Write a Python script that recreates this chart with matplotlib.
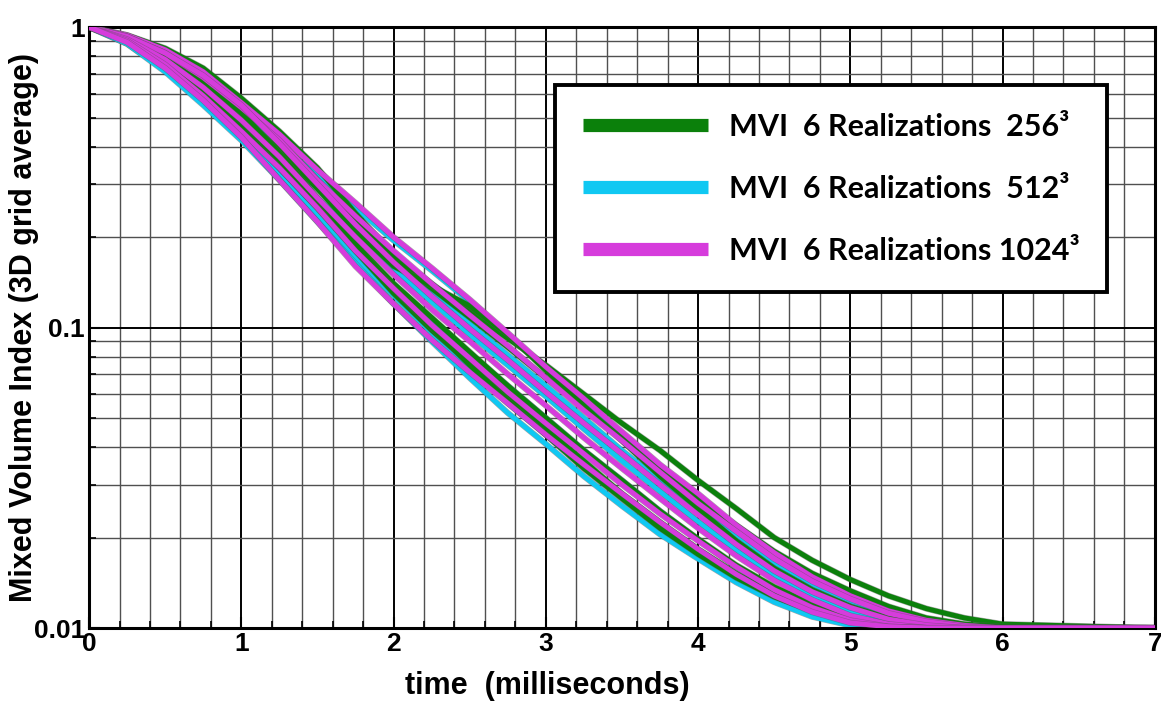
import numpy as np
import matplotlib
matplotlib.use('Agg')
import matplotlib.pyplot as plt
import matplotlib.patheffects as pe
from matplotlib.ticker import MultipleLocator, LogLocator, FixedLocator, NullFormatter

# time samples (ms)
t = [0, 0.25, 0.5, 0.75, 1, 1.25, 1.5, 1.75, 2, 2.25, 2.5, 2.75, 3,
     3.25, 3.5, 3.75, 4, 4.25, 4.5, 4.75, 5, 5.25, 5.5, 5.75, 6, 7]

# MVI, 6 realizations at 256^3
g1 = [1, 0.94, 0.85, 0.73, 0.58, 0.45, 0.34, 0.24, 0.175, 0.14, 0.113, 0.092, 0.075, 0.060, 0.048, 0.039, 0.031, 0.025, 0.020, 0.0168, 0.0145, 0.0128, 0.0116, 0.0108, 0.0103, 0.01]
g2 = [1, 0.93, 0.83, 0.70, 0.55, 0.42, 0.31, 0.23, 0.17, 0.135, 0.108, 0.086, 0.068, 0.054, 0.043, 0.034, 0.027, 0.022, 0.018, 0.0152, 0.0133, 0.0118, 0.0108, 0.0103, 0.0101, 0.01]
g3 = [1, 0.92, 0.80, 0.66, 0.51, 0.39, 0.29, 0.21, 0.16, 0.138, 0.118, 0.095, 0.072, 0.055, 0.042, 0.032, 0.025, 0.0195, 0.0158, 0.0134, 0.0118, 0.0108, 0.0103, 0.0101, 0.01, 0.01]
g4 = [1, 0.91, 0.78, 0.63, 0.48, 0.36, 0.26, 0.19, 0.14, 0.108, 0.083, 0.064, 0.050, 0.039, 0.031, 0.0245, 0.0198, 0.0162, 0.0137, 0.012, 0.0109, 0.0103, 0.0101, 0.01, 0.01, 0.01]
g5 = [1, 0.90, 0.76, 0.61, 0.46, 0.34, 0.25, 0.18, 0.13, 0.098, 0.076, 0.059, 0.046, 0.036, 0.028, 0.0225, 0.0183, 0.0152, 0.013, 0.0116, 0.0107, 0.0102, 0.01, 0.01, 0.01, 0.01]
g6 = [1, 0.92, 0.80, 0.66, 0.52, 0.38, 0.27, 0.19, 0.135, 0.10, 0.075, 0.057, 0.044, 0.034, 0.027, 0.0215, 0.0176, 0.0147, 0.0127, 0.0114, 0.0106, 0.0102, 0.01, 0.01, 0.01, 0.01]

# MVI, 6 realizations at 512^3
c1 = [1, 0.92, 0.80, 0.66, 0.52, 0.41, 0.32, 0.25, 0.195, 0.155, 0.122, 0.095, 0.073, 0.056, 0.043, 0.033, 0.026, 0.0205, 0.0165, 0.014, 0.0123, 0.0111, 0.0104, 0.0101, 0.01, 0.01]
c2 = [1, 0.91, 0.78, 0.63, 0.49, 0.38, 0.29, 0.22, 0.17, 0.132, 0.103, 0.081, 0.064, 0.050, 0.039, 0.031, 0.0245, 0.0195, 0.0158, 0.0134, 0.0118, 0.0108, 0.0103, 0.0101, 0.01, 0.01]
c3 = [1, 0.90, 0.76, 0.60, 0.46, 0.35, 0.27, 0.205, 0.157, 0.122, 0.095, 0.075, 0.059, 0.046, 0.036, 0.0285, 0.0226, 0.0182, 0.0149, 0.0128, 0.0113, 0.0105, 0.0101, 0.01, 0.01, 0.01]
c4 = [1, 0.89, 0.74, 0.58, 0.44, 0.33, 0.25, 0.185, 0.14, 0.107, 0.082, 0.064, 0.050, 0.039, 0.031, 0.0245, 0.0197, 0.016, 0.0134, 0.0117, 0.0107, 0.0102, 0.01, 0.01, 0.01, 0.01]
c5 = [1, 0.88, 0.72, 0.56, 0.43, 0.32, 0.235, 0.17, 0.128, 0.096, 0.073, 0.056, 0.044, 0.034, 0.027, 0.0215, 0.0178, 0.0148, 0.0126, 0.0112, 0.0104, 0.0101, 0.01, 0.01, 0.01, 0.01]
c6 = [1, 0.88, 0.71, 0.55, 0.42, 0.31, 0.225, 0.163, 0.12, 0.09, 0.068, 0.052, 0.041, 0.032, 0.0255, 0.0205, 0.017, 0.0142, 0.0122, 0.0109, 0.0102, 0.01, 0.01, 0.01, 0.01, 0.01]

# MVI, 6 realizations at 1024^3
m1 = [1, 0.94, 0.84, 0.71, 0.56, 0.44, 0.335, 0.26, 0.20, 0.158, 0.124, 0.096, 0.074, 0.058, 0.045, 0.035, 0.028, 0.022, 0.0178, 0.0148, 0.0128, 0.0114, 0.0106, 0.0102, 0.01, 0.01]
m2 = [1, 0.93, 0.82, 0.68, 0.54, 0.42, 0.31, 0.235, 0.18, 0.14, 0.11, 0.087, 0.068, 0.053, 0.042, 0.033, 0.026, 0.021, 0.017, 0.0143, 0.0125, 0.0112, 0.0105, 0.0101, 0.01, 0.01]
m3 = [1, 0.93, 0.82, 0.69, 0.55, 0.41, 0.30, 0.22, 0.165, 0.127, 0.099, 0.078, 0.061, 0.048, 0.038, 0.030, 0.0238, 0.019, 0.0155, 0.0132, 0.0117, 0.0107, 0.0102, 0.01, 0.01, 0.01]
m4 = [1, 0.91, 0.78, 0.63, 0.49, 0.37, 0.27, 0.2, 0.15, 0.115, 0.09, 0.07, 0.055, 0.043, 0.034, 0.027, 0.0215, 0.0174, 0.0144, 0.0124, 0.011, 0.0103, 0.01, 0.01, 0.01, 0.01]
m5 = [1, 0.90, 0.75, 0.59, 0.45, 0.34, 0.25, 0.18, 0.135, 0.102, 0.079, 0.061, 0.048, 0.038, 0.030, 0.024, 0.0195, 0.016, 0.0134, 0.0117, 0.0106, 0.0101, 0.01, 0.01, 0.01, 0.01]
m6 = [1, 0.89, 0.73, 0.57, 0.43, 0.31, 0.225, 0.16, 0.12, 0.091, 0.071, 0.056, 0.044, 0.035, 0.028, 0.0225, 0.0183, 0.0151, 0.0128, 0.0113, 0.0104, 0.0101, 0.01, 0.01, 0.01, 0.01]

green = '#0b800b'
cyan = '#10c8f2'
magenta = '#d63cdc'

labels = ['MVI  6 Realizations  256\u00b3',
          'MVI  6 Realizations  512\u00b3',
          'MVI  6 Realizations 1024\u00b3']

fig = plt.figure(figsize=(11.61, 7.02), dpi=100)
ax = fig.add_axes([0.0767, 0.1054, 0.918, 0.856])

ax.set_yscale('log')
ax.set_xlim(0, 7)
ax.set_ylim(0.01, 1)

# grid
ax.xaxis.set_major_locator(MultipleLocator(1))
ax.xaxis.set_minor_locator(MultipleLocator(0.2))
ax.yaxis.set_major_locator(FixedLocator([0.01, 0.1, 1]))
ax.yaxis.set_minor_locator(LogLocator(base=10, subs=np.arange(2, 10)))
ax.yaxis.set_minor_formatter(NullFormatter())
ax.grid(which='major', color='black', linewidth=1.4, zorder=0)
ax.grid(which='minor', color='#505050', linewidth=1.0, zorder=0)
ax.set_axisbelow(True)

lw = 3.6
edge = [pe.Stroke(linewidth=lw + 0.8, foreground='#555555', alpha=0.5), pe.Normal()]
for y in [c1, c2, c3, c4, c5, c6]:
    ax.plot(t, y, color=cyan, lw=lw, solid_capstyle='round', zorder=2, path_effects=edge)
for y in [g1, g2, g3, g4, g5, g6]:
    ax.plot(t, y, color=green, lw=lw, solid_capstyle='round', zorder=3, path_effects=edge)
for y in [m1, m2, m3, m4, m5, m6]:
    ax.plot(t, y, color=magenta, lw=lw, solid_capstyle='round', zorder=3, path_effects=edge)

for s in ax.spines.values():
    s.set_linewidth(2.2)
ax.tick_params(which='both', direction='in', top=False, right=False)
ax.tick_params(which='major', length=8, width=1.5)
ax.tick_params(which='minor', length=5, width=1.2)
ax.tick_params(axis='x', pad=3)
ax.tick_params(axis='y', pad=3)

tick_font = {'family': 'Liberation Sans', 'weight': 'bold', 'size': 19}
ax.set_xticks([0, 1, 2, 3, 4, 5, 6, 7])
ax.set_xticklabels(['0', '1', '2', '3', '4', '5', '6', '7'], fontdict=tick_font)
ax.set_yticks([0.01, 0.1, 1])
ax.set_yticklabels(['0.01', '0.1', '1'], fontdict=tick_font)

ax.set_xlabel('time  (milliseconds)', fontsize=22, fontweight='bold',
              family='Liberation Sans')
ax.set_ylabel('Mixed Volume Index (3D grid average)', fontsize=22,
              fontweight='bold', family='Liberation Sans')
ax.xaxis.set_label_coords(0.43, -0.072)
ax.yaxis.set_label_coords(-0.047, 0.5)

# legend drawn as a boxed key
handles = [plt.Line2D([], [], color=c, lw=9.5, solid_capstyle='butt')
           for c in [green, cyan, magenta]]
leg = ax.legend(handles, labels, loc='upper left',
                bbox_to_anchor=(555 / 1161, 1 - 85 / 702), bbox_transform=fig.transFigure,
                prop={'family': 'Lato', 'weight': 'bold', 'size': 22},
                handlelength=4.1, handletextpad=0.7, labelspacing=1.12,
                borderpad=0.9, borderaxespad=0, fancybox=False, framealpha=1,
                edgecolor='black')
leg.get_frame().set_linewidth(2.8)
leg.set_zorder(5)

fig.savefig('out.png', dpi=100)
